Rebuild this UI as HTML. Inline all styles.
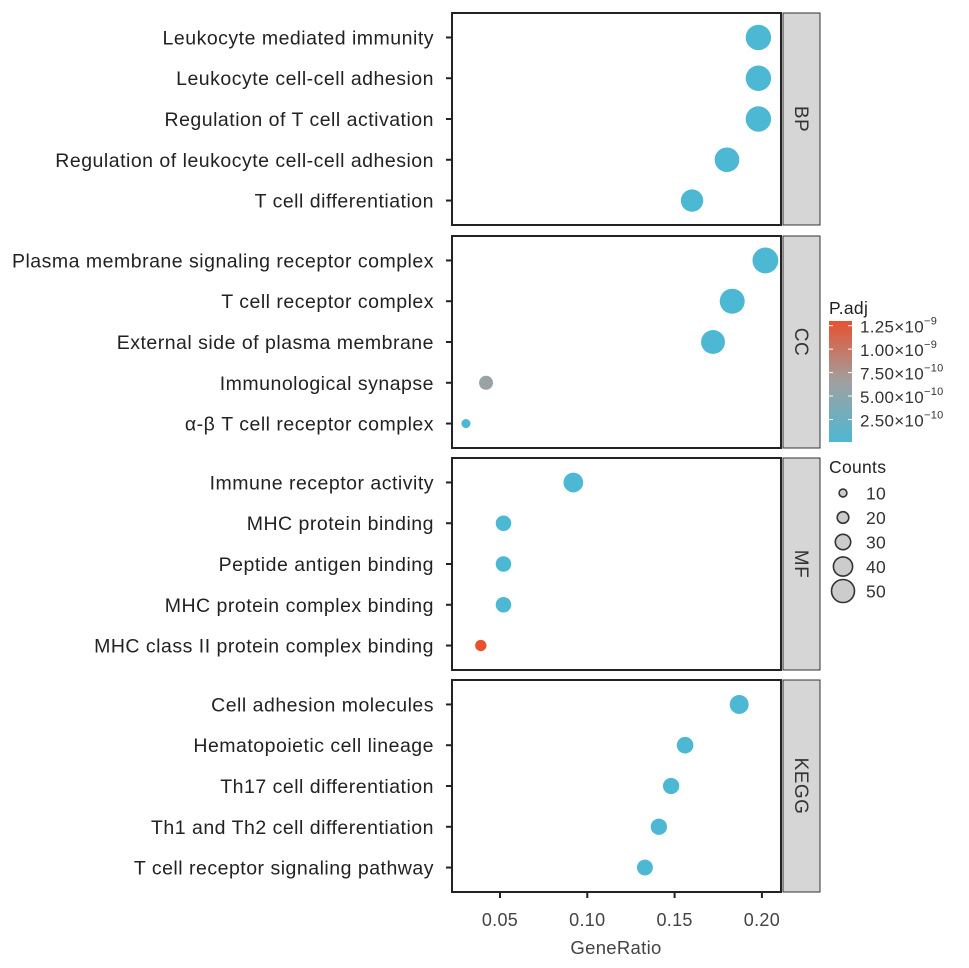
<!DOCTYPE html>
<html><head><meta charset="utf-8"><style>body{margin:0;background:#fff}svg{display:block;font-family:"Liberation Sans",Arial,sans-serif}</style></head>
<body>
<svg id="c" width="969" height="968" viewBox="0 0 969 968"></svg>
<script>
const panels=["BP","CC","MF","KEGG"];
const terms=[
["Leukocyte mediated immunity","Leukocyte cell-cell adhesion","Regulation of T cell activation","Regulation of leukocyte cell-cell adhesion","T cell differentiation"],
["Plasma membrane signaling receptor complex","T cell receptor complex","External side of plasma membrane","Immunological synapse","α-β T cell receptor complex"],
["Immune receptor activity","MHC protein binding","Peptide antigen binding","MHC protein complex binding","MHC class II protein complex binding"],
["Cell adhesion molecules","Hematopoietic cell lineage","Th17 cell differentiation","Th1 and Th2 cell differentiation","T cell receptor signaling pathway"]];
const geneRatio=[[0.198,0.198,0.198,0.180,0.160],[0.202,0.183,0.172,0.042,0.0305],[0.092,0.052,0.052,0.052,0.039],[0.187,0.156,0.148,0.141,0.133]];
const counts=[[59,59,59,57,51],[60,58,55,29,16],[44,33,33,33,22],[42,36,35,35,34]];
const padj=[[1e-11,1e-11,1e-11,1e-11,1e-11],[1e-11,1e-11,1e-11,6e-10,1e-11],[1e-11,1e-11,1e-11,1e-11,1.3e-9],[1e-11,1e-11,1e-11,1e-11,1e-11]];
const xTicks=[0.05,0.10,0.15,0.20];
const xTickLabels=["0.05","0.10","0.15","0.20"];
const colorTicks=[1.25e-9,1e-9,7.5e-10,5e-10,2.5e-10];
const colorTickLabels=["1.25","1.00","7.50","5.00","2.50"];
const colorTickExp=["-9","-9","-10","-10","-10"];
const sizeLegend=[10,20,30,40,50];

const svg=document.getElementById('c');const NS='http://www.w3.org/2000/svg';
function el(t,a,p){const e=document.createElementNS(NS,t);for(const k in a)e.setAttribute(k,a[k]);(p||svg).appendChild(e);return e;}
const L=452,R=781,pTop=[13,236,458,680],pH=212;
const xs=v=>500+(v-0.05)*1746;
const rs=c=>1.5+0.19*c;
const pmin=1e-11,pmax=1.3e-9;
function col(p){const t=Math.max(0,Math.min(1,(p-pmin)/(pmax-pmin)));
 const a=[77,184,211],m=[160,160,160],b=[232,81,47];let c;
 if(t<0.5){const u=t/0.5;c=a.map((v,i)=>Math.round(v+(m[i]-v)*u));}else{const u=(t-0.5)/0.5;c=m.map((v,i)=>Math.round(v+(b[i]-v)*u));}
 return `rgb(${c})`;}
panels.forEach((pn,pi)=>{
 const top=pTop[pi];
 const g=el('g',{});
 el('rect',{x:L,y:top,width:R-L,height:pH,fill:'#fff',stroke:'#222','stroke-width':2},g);
 const s=el('rect',{x:R+2,y:top,width:37,height:pH,fill:'#d6d6d6',stroke:'#333','stroke-width':1},g);
 
 const st=el('text',{x:0,y:0,'font-size':19,'letter-spacing':0.5,fill:'#333','text-anchor':'middle',transform:`translate(${R+14},${top+pH/2}) rotate(90)`},g);st.textContent=pn;
 const step=pH/5.2;
 terms[pi].forEach((t,i)=>{
  const y=top+step*(0.6+i);
  el('line',{x1:L-6,x2:L,y1:y,y2:y,stroke:'#222','stroke-width':2},g);
  const tx=el('text',{x:L-18,y:y+7,'font-size':19.5,'letter-spacing':0.5,fill:'#222','text-anchor':'end'},g);tx.textContent=t;
  
  const c=el('circle',{cx:xs(geneRatio[pi][i]),cy:y,r:rs(counts[pi][i]),fill:col(padj[pi][i])},g);
  
 });
});
const ax=el('g',{});
xTicks.forEach((v,i)=>{el('line',{x1:xs(v),x2:xs(v),y1:892,y2:898,stroke:'#222','stroke-width':2},ax);
 const t=el('text',{x:xs(v),y:926,'font-size':18,'letter-spacing':0.3,fill:'#444','text-anchor':'middle'},ax);t.textContent=xTickLabels[i];});
const xt=el('text',{x:616,y:954,'font-size':18.5,'letter-spacing':0.3,fill:'#444','text-anchor':'middle'});xt.textContent='GeneRatio';

// color legend
const lg=el('g',{});
const pt=el('text',{x:829,y:314,'font-size':17.5,'letter-spacing':0.3,fill:'#222'},lg);pt.textContent='P.adj';
const defs=el('defs',{});const gr=el('linearGradient',{id:'gr',x1:0,y1:1,x2:0,y2:0},defs);
el('stop',{offset:'0%','stop-color':'rgb(77,184,211)'},gr);el('stop',{offset:'50%','stop-color':'rgb(160,160,160)'},gr);el('stop',{offset:'100%','stop-color':'rgb(232,81,47)'},gr);
const cbT=321,cbB=442;
el('rect',{x:829,y:cbT,width:23,height:cbB-cbT,fill:'url(#gr)'},lg);
const cy=p=>cbB-(p-pmin)/(pmax-pmin)*(cbB-cbT);
colorTicks.forEach((v,i)=>{const y=cy(v);
 el('line',{x1:829,x2:833,y1:y,y2:y,stroke:'#fff'},lg);el('line',{x1:848,x2:852,y1:y,y2:y,stroke:'#fff'},lg);
 const t=el('text',{x:860,y:y+7,'font-size':17,'letter-spacing':0.3,fill:'#333'},lg);t.textContent=colorTickLabels[i]+'×10';
 const e=el('tspan',{dy:-8,'font-size':11},t);e.textContent='−'+colorTickExp[i].slice(1);});
// size legend
const sg=el('g',{});
const ct=el('text',{x:829,y:473,'font-size':17.5,'letter-spacing':0.3,fill:'#222'},sg);ct.textContent='Counts';
sizeLegend.forEach((c,i)=>{const y=493+i*24.5;
 el('circle',{cx:843,cy:y,r:rs(c)+0.5,fill:'#ccc',stroke:'#333','stroke-width':1.6},sg);
 const t=el('text',{x:866,y:y+6.5,'font-size':17.5,'letter-spacing':0.3,fill:'#333'},sg);t.textContent=c;});
</script>
</body></html>
